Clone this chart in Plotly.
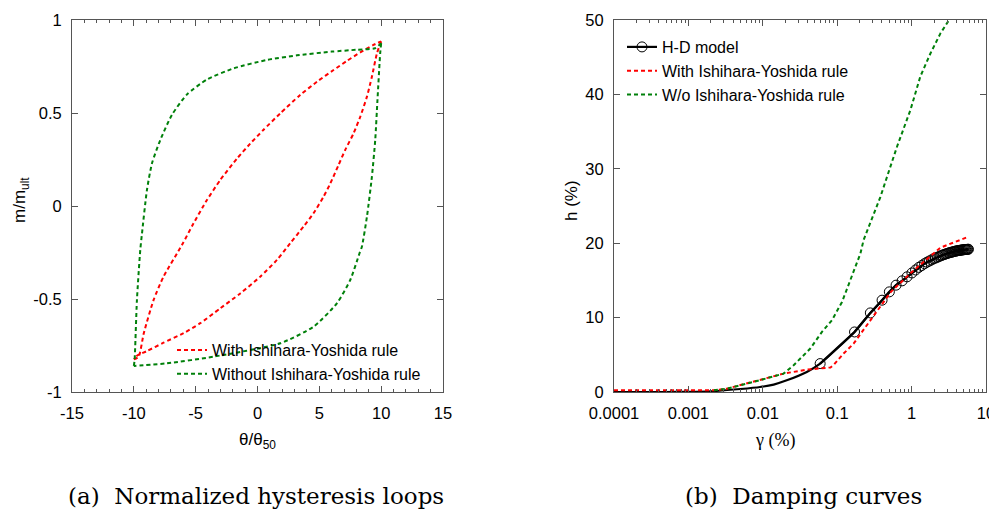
import plotly.graph_objects as go

# ---------------- (a) hysteresis loops ----------------
# With Ishihara-Yoshida rule (red): loading branch, unloading branch
red_up_x = [-10, -9.61, -9.2, -8.4, -7.6, -6.11, -5.17, -4.09, -3.01, -1.66, -0.59, 0.49, 1.84, 3.45, 4.81, 6.15, 7.23, 8.31, 9.38, 10]
red_up_y = [-0.825, -0.81, -0.685, -0.505, -0.38, -0.21, -0.093, 0.032, 0.14, 0.255, 0.335, 0.41, 0.498, 0.597, 0.668, 0.731, 0.78, 0.826, 0.866, 0.885]
red_lo_x = [10, 9.66, 9.25, 8.85, 8.31, 7.77, 7.09, 6.55, 5.88, 5.34, 4.53, 3.72, 2.65, 1.57, 0.22, -1.39, -3.01, -4.63, -5.98, -7.6, -8.94, -9.75, -10]
red_lo_y = [0.885, 0.821, 0.695, 0.588, 0.48, 0.391, 0.301, 0.22, 0.12, 0.05, -0.039, -0.111, -0.2, -0.29, -0.38, -0.47, -0.55, -0.63, -0.684, -0.735, -0.78, -0.805, -0.822]

# Without Ishihara-Yoshida rule (green)
grn_up_x = [-10, -9.94, -9.75, -9.48, -9.34, -8.94, -8.53, -7.86, -6.92, -5.7, -4.09, -1.93, 0.76, 3.19, 6.0, 8.0, 9.5, 10]
grn_up_y = [-0.86, -0.83, -0.505, -0.237, -0.147, 0.086, 0.23, 0.355, 0.49, 0.60, 0.68, 0.74, 0.785, 0.81, 0.83, 0.84, 0.848, 0.875]
grn_lo_x = [10, 9.92, 9.7, 9.52, 9.25, 8.85, 8.44, 8.25, 7.5, 6.42, 4.53, 1.84, -3.55, -7.32, -10]
grn_lo_y = [0.875, 0.82, 0.57, 0.355, 0.157, -0.057, -0.219, -0.254, -0.398, -0.523, -0.649, -0.738, -0.81, -0.846, -0.86]

# ---------------- (b) damping curves ----------------
hd_x = [0.0001, 0.0005, 0.001, 0.002, 0.005, 0.0092, 0.014, 0.021, 0.039,
        0.059, 0.171, 0.279, 0.401, 0.502, 0.618, 0.745, 0.869, 1.01,
        1.13, 1.25, 1.37, 1.49, 1.61, 1.73, 1.85, 1.97, 2.09, 2.21, 2.33,
        2.45, 2.57, 2.69, 2.81, 2.93, 3.05, 3.17, 3.29, 3.41, 3.53, 3.65,
        3.77, 3.89, 4.01, 4.13, 4.25, 4.37, 4.49, 4.61, 4.73, 4.85, 4.97,
        5.09, 5.21, 5.33, 5.45, 5.57, 5.69, 5.81]
hd_y = [0.0, 0.0, 0.02, 0.1, 0.4, 0.67, 1.0, 1.57, 2.7,
        3.82, 8.07, 10.63, 12.34, 13.46, 14.36, 14.94, 15.48, 16.0,
        16.4, 16.75, 17.0, 17.25, 17.45, 17.6, 17.75, 17.9, 18.0, 18.1, 18.2,
        18.3, 18.38, 18.45, 18.52, 18.58, 18.64, 18.7, 18.74, 18.78, 18.82, 18.86,
        18.9, 18.93, 18.96, 18.99, 19.01, 19.03, 19.05, 19.07, 19.09, 19.1, 19.12,
        19.13, 19.14, 19.15, 19.16, 19.17, 19.18, 19.19]
hd_first_marker = 9  # circles start at gamma = 0.059 %

with_x = [0.0001, 0.001, 0.0022, 0.0033, 0.0075, 0.019, 0.039, 0.081, 0.089, 0.122, 0.166, 0.251, 0.343, 0.444, 0.527, 1.0, 1.99, 2.44, 5.58]
with_y = [0.23, 0.23, 0.23, 0.45, 1.35, 2.47, 3.0, 3.3, 3.6, 5.17, 6.5, 8.98, 10.77, 12.34, 13.46, 16.1, 18.6, 19.4, 20.8]

wo_x = [0.0022, 0.0033, 0.0075, 0.019, 0.026, 0.0435, 0.0624, 0.085, 0.116, 0.15, 0.205, 0.226, 0.38, 0.638, 0.964, 1.31, 1.79, 2.44, 3.33]
wo_y = [0.23, 0.45, 1.35, 2.47, 3.6, 5.84, 8.07, 9.65, 12.1, 15.03, 18.6, 20.4, 26.2, 33.0, 37.9, 42.4, 45.5, 48.2, 50.3]

ticks_a_x = [-15, -10, -5, 0, 5, 10, 15]
ticks_a_y = [-1, -0.5, 0, 0.5, 1]
ticks_a_y_text = ["-1", "-0.5", "0", "0.5", "1"]
ticks_b_x = [0.0001, 0.001, 0.01, 0.1, 1, 10]
ticks_b_x_text = ["0.0001", "0.001", "0.01", "0.1", "1", "10"]
ticks_b_y = [0, 10, 20, 30, 40, 50]

RED = "#ff0000"
GREEN = "#00800a"
SANS = "Liberation Sans, Arial, sans-serif"
SERIF = "Liberation Serif, Times New Roman, serif"
DASH = "4px,3px"

fig = go.Figure()

def loop_branch(xs, ys, color, name, show):
    fig.add_trace(go.Scatter(x=xs, y=ys, mode="lines", line=dict(color=color, width=2, dash=DASH,
                                                                 shape="spline", smoothing=0.6),
                             name=name, legendgroup=name, showlegend=show,
                             xaxis="x", yaxis="y", legend="legend"))

loop_branch(red_up_x, red_up_y, RED, "With Ishihara-Yoshida rule", True)
loop_branch(red_lo_x, red_lo_y, RED, "With Ishihara-Yoshida rule", False)
loop_branch(grn_up_x, grn_up_y, GREEN, "Without Ishihara-Yoshida rule", True)
loop_branch(grn_lo_x, grn_lo_y, GREEN, "Without Ishihara-Yoshida rule", False)

fig.add_trace(go.Scatter(x=hd_x, y=hd_y, mode="lines", line=dict(color="black", width=2.2, shape="spline", smoothing=0.5),
                         showlegend=False, xaxis="x2", yaxis="y2"))
fig.add_trace(go.Scatter(x=hd_x[hd_first_marker:], y=hd_y[hd_first_marker:], mode="lines+markers",
                         line=dict(color="black", width=2.2),
                         marker=dict(symbol="circle-open", size=10, color="black", line=dict(width=1)),
                         name="H-D model", xaxis="x2", yaxis="y2", legend="legend2"))
fig.add_trace(go.Scatter(x=with_x, y=with_y, mode="lines", line=dict(color=RED, width=2, dash=DASH),
                         name="With Ishihara-Yoshida rule", xaxis="x2", yaxis="y2", legend="legend2"))
fig.add_trace(go.Scatter(x=wo_x, y=wo_y, mode="lines", line=dict(color=GREEN, width=2, dash=DASH),
                         name="W/o Ishihara-Yoshida rule", xaxis="x2", yaxis="y2", legend="legend2"))

# The page body has an 8px margin, so the figure is drawn 8px in from the window corner.
OFF = 8
W, H = 997 - OFF, 514 - OFF
def px(xp):
    return (xp - OFF) / W
def py(yp):
    return 1 - (yp - OFF) / H

axis_common = dict(showline=True, linecolor="#555", linewidth=1, mirror="ticks", ticks="inside",
                   ticklen=6, tickcolor="#555", showgrid=False, zeroline=False, automargin=False,
                   ticklabeloverflow="allow",
                   tickfont=dict(family=SANS, size=16.5, color="black"))

fig.update_layout(
    width=W, height=H, margin=dict(l=0, r=0, t=0, b=0, autoexpand=False),
    paper_bgcolor="white", plot_bgcolor="white",
    xaxis=dict(domain=[px(72), px(443)], range=[-15, 15], tickvals=ticks_a_x,
               ticktext=[str(v) for v in ticks_a_x], ticklabelstandoff=6,
               minor=dict(ticks="inside", ticklen=3, dtick=1, tickcolor="#555"),
               anchor="y", **axis_common),
    yaxis=dict(domain=[py(392), py(20)], range=[-1, 1], tickvals=ticks_a_y,
               ticktext=ticks_a_y_text, ticklabelstandoff=6, anchor="x", **axis_common),
    xaxis2=dict(domain=[px(614), px(986)], type="log", range=[-4, 1], tickvals=ticks_b_x,
                ticktext=ticks_b_x_text, ticklabelstandoff=6,
                minor=dict(ticks="inside", ticklen=3, dtick="D1", tickcolor="#555"),
                anchor="y2", **axis_common),
    yaxis2=dict(domain=[py(392), py(20)], range=[0, 50], tickvals=ticks_b_y,
                ticktext=[str(v) for v in ticks_b_y], ticklabelstandoff=6, anchor="x2", **axis_common),
    legend=dict(x=px(172), y=py(333), xanchor="left", yanchor="top", bgcolor="rgba(0,0,0,0)",
                font=dict(family=SANS, size=16, color="black"), tracegroupgap=0),
    legend2=dict(x=px(622), y=py(30), xanchor="left", yanchor="top", bgcolor="rgba(0,0,0,0)",
                 font=dict(family=SANS, size=16, color="black"), tracegroupgap=0),
    showlegend=True,
)

annotations = [
    dict(text="m/m<sub>ult</sub>", x=px(21), y=py(200), textangle=-90,
         font=dict(family=SANS, size=17, color="black")),
    dict(text="θ/θ<sub>50</sub>", x=px(257), y=py(441),
         font=dict(family=SANS, size=17, color="black")),
    dict(text="h (%)", x=px(571), y=py(201), textangle=-90,
         font=dict(family=SANS, size=17, color="black")),
    dict(text="γ (%)", x=px(775), y=py(440),
         font=dict(family=SERIF, size=18, color="black")),
    dict(text="(a)\u00a0\u00a0Normalized hysteresis loops", x=px(256), y=py(496),
         font=dict(family="DejaVu Serif, serif", size=23, color="black")),
    dict(text="(b)\u00a0\u00a0Damping curves", x=px(803), y=py(496),
         font=dict(family="DejaVu Serif, serif", size=23, color="black")),
]
for a in annotations:
    a.update(xref="paper", yref="paper", showarrow=False, xanchor="center", yanchor="middle")
fig.update_layout(annotations=annotations)

fig.write_html("out.html")
